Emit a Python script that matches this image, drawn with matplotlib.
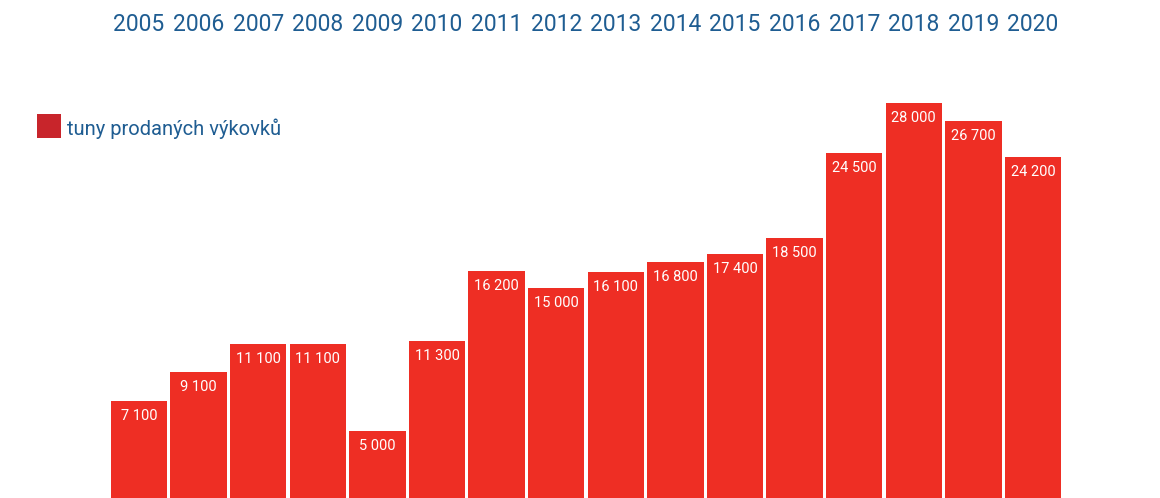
import matplotlib.pyplot as plt
from matplotlib.patches import Rectangle
from matplotlib.transforms import blended_transform_factory

years = ['2005', '2006', '2007', '2008', '2009', '2010', '2011', '2012',
         '2013', '2014', '2015', '2016', '2017', '2018', '2019', '2020']
tons = [7100, 9100, 11100, 11100, 5000, 11300, 16200, 15000,
        16100, 16800, 17400, 18500, 24500, 28000, 26700, 24200]
value_labels = ['7 100', '9 100', '11 100', '11 100', '5 000', '11 300', '16 200', '15 000',
                '16 100', '16 800', '17 400', '18 500', '24 500', '28 000', '26 700', '24 200']
legend_label = 'tuny prodaných výkovků'

W, H = 1160, 498
bar_red = '#ee2e24'
legend_red = '#c8252b'
blue = '#1f5d92'

fig = plt.figure(figsize=(W / 100, H / 100), dpi=100)
ax = fig.add_axes([0, 0, 1, 1])

x = list(range(len(years)))
ax.bar(x, tons, width=0.948, color=bar_red, linewidth=0)

# pixel mapping: first bar centre at 139 px, pitch 59.6 px; zero sits 4 px below the image, 14.26 px per 1000
ax.set_xlim(-139 / 59.6, (W - 139) / 59.6)
ax.set_ylim(4 / 14.26 * 1000, 502 / 14.26 * 1000)
ax.axis('off')

for i, v in enumerate(tons):
    ax.annotate(value_labels[i], (i, v), xytext=(0, -13.7), textcoords='offset points',
                ha='center', va='baseline', color='white', fontsize=10.5,
                family=['Roboto', 'DejaVu Sans'])

trans = blended_transform_factory(ax.transData, ax.transAxes)
for i, y in enumerate(years):
    ax.text(i, 1 - 31 / H, y, transform=trans, ha='center', va='baseline',
            color=blue, fontsize=16.5, family=['Roboto', 'DejaVu Sans'])

fig.add_artist(Rectangle((37 / W, 1 - 138 / H), 24 / W, 24 / H,
                         transform=fig.transFigure, color=legend_red, linewidth=0))
fig.text(67 / W, 1 - 135 / H, legend_label, ha='left', va='baseline',
         color=blue, fontsize=14.5, family=['Roboto', 'DejaVu Sans'])

fig.savefig('out.png', dpi=100)
